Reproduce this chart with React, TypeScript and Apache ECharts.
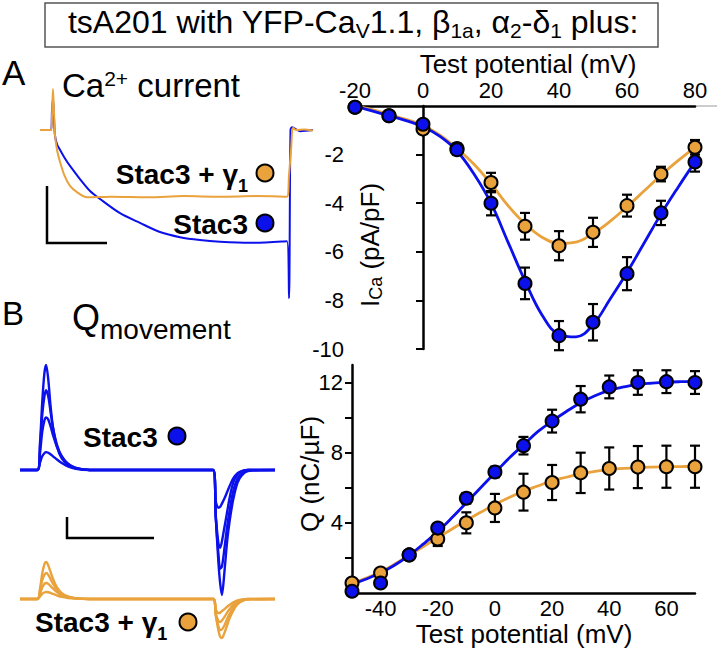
import React, { useEffect, useRef } from "react";
import * as echarts from "echarts";

const FONT = "'Liberation Sans', Arial, Helvetica, sans-serif";
const BLUE = "#0c10ea";
const ORANGE = "#e9a23c";
const BLACK = "#000000";

// ---------- I–V relationship (panel A, right) ----------
const ivPotential = [-20, -10, 0, 10, 20, 30, 40, 50, 60, 70, 80];
const ivStac3 = [-0.05, -0.4, -0.75, -1.8, -4.0, -7.3, -9.45, -8.9, -6.9, -4.4, -2.3];
const ivStac3Sem = [0.05, 0.1, 0.15, 0.2, 0.5, 0.65, 0.6, 0.75, 0.68, 0.5, 0.4];
const ivGamma = [-0.05, -0.4, -0.95, -1.75, -3.15, -4.95, -5.75, -5.2, -4.1, -2.8, -1.7];
const ivGammaSem = [0.05, 0.1, 0.2, 0.2, 0.4, 0.55, 0.6, 0.6, 0.45, 0.3, 0.3];
const ivFitPotential = [-20, -15, -10, -5, 0, 5, 10, 15, 20, 25, 30, 35, 40, 45, 50, 55, 60, 65, 70, 75, 80];
const ivFitStac3 = [0, -0.2, -0.4, -0.6, -0.85, -1.25, -1.85, -2.8, -4.0, -5.6, -7.2, -8.6, -9.4, -9.5, -9.0, -7.95, -6.85, -5.65, -4.45, -3.35, -2.3];
const ivFitGamma = [0, -0.15, -0.35, -0.55, -0.8, -1.2, -1.75, -2.4, -3.2, -4.1, -4.85, -5.4, -5.65, -5.6, -5.25, -4.75, -4.15, -3.5, -2.85, -2.25, -1.7];

// ---------- Q–V relationship (panel B, right) ----------
const qPotential = [-50, -40, -30, -20, -10, 0, 10, 20, 30, 40, 50, 60, 70];
const qStac3 = [0.1, 0.57, 2.17, 3.7, 5.4, 6.9, 8.4, 9.8, 11.05, 11.75, 12.0, 12.05, 12.0];
const qStac3Sem = [0.1, 0.15, 0.2, 0.25, 0.3, 0.3, 0.5, 0.65, 0.75, 0.65, 0.7, 0.65, 0.65];
const qGamma = [0.57, 1.14, 2.17, 3.08, 4.0, 4.85, 5.75, 6.3, 6.85, 7.1, 7.18, 7.2, 7.2];
const qGammaSem = [0.1, 0.15, 0.2, 0.4, 0.6, 0.8, 1.05, 1.0, 1.15, 1.2, 1.2, 1.2, 1.2];
const qFitPotential = [-50, -45, -40, -35, -30, -25, -20, -15, -10, -5, 0, 5, 10, 15, 20, 25, 30, 35, 40, 45, 50, 55, 60, 65, 70];
const qFitStac3 = [0.5, 0.8, 1.15, 1.6, 2.15, 2.8, 3.5, 4.3, 5.15, 6.0, 6.85, 7.7, 8.45, 9.2, 9.8, 10.35, 10.85, 11.25, 11.55, 11.75, 11.9, 11.97, 12.02, 12.05, 12.07];
const qFitGamma = [0.55, 0.85, 1.2, 1.65, 2.15, 2.65, 3.15, 3.65, 4.15, 4.6, 5.05, 5.45, 5.8, 6.1, 6.4, 6.6, 6.8, 6.93, 7.03, 7.1, 7.15, 7.18, 7.2, 7.21, 7.22];

// ---------- Ca2+ current traces (panel A, left): [time ms, current nA] ----------
const caTraceStac3: [number, number][] = [
  [0, 0], [9.2, 0], [10, 0.35], [10.8, 0.55], [11.7, 0.2], [12.5, -0.1], [14.2, -0.25], [16.7, -0.35],
  [20.8, -0.5], [25, -0.63], [33.3, -0.86], [41.7, -1.07], [50, -1.21], [66.7, -1.46], [83.3, -1.63],
  [100, -1.79], [116.7, -1.88], [133.3, -1.93], [150, -1.96], [175, -1.98], [205.8, -1.95],
  [207.5, -2.95], [208.75, 0.0], [210, 0.05], [216.7, -0.02], [227.5, 0],
];
const caTraceGamma: [number, number][] = [
  [0, 0], [9.2, 0], [10, 0.25], [10.8, 0.72], [11.7, 0.3], [12.5, -0.09], [14.2, -0.35], [16.7, -0.56],
  [20.8, -0.82], [25, -0.98], [30.8, -1.09], [39.2, -1.18], [60, -1.17], [90, -1.18], [120, -1.16],
  [150, -1.17], [180, -1.16], [205.8, -1.17], [207.5, -0.79], [209.2, -0.35], [210.8, 0.04],
  [213.3, 0.0], [220, 0.01], [227.5, -0.01],
];

// ---------- Charge movement traces (panel B, left) ----------
const qmTime = [0, 2.0, 2.3, 2.55, 2.8, 3.0, 3.25, 3.5, 3.8, 4.25, 4.8, 5.5, 6.4, 8.0, 22.2, 22.5, 22.8, 23.0, 23.2, 23.5, 23.8, 24.1, 24.5, 25.0, 25.5, 26.2, 29.3];
const qmStac3Traces = [
  [0, 0, 1.3, 3.2, 4.6, 5.0, 4.3, 3.1, 2.0, 1.1, 0.55, 0.25, 0.08, 0, 0, -2.3, -4.4, -5.4, -5.95, -4.8, -3.4, -2.4, -1.4, -0.6, -0.25, -0.05, 0],
  [0, 0, 1.1, 2.6, 3.5, 3.8, 3.5, 2.8, 2.0, 1.2, 0.65, 0.3, 0.1, 0, 0, -2.3, -4.0, -4.7, -4.6, -3.7, -2.7, -1.9, -1.0, -0.4, -0.15, 0, 0],
  [0, 0, 0.8, 1.8, 2.35, 2.5, 2.4, 2.1, 1.65, 1.1, 0.65, 0.3, 0.1, 0, 0, -2.2, -3.5, -3.7, -3.4, -2.7, -2.0, -1.3, -0.6, -0.2, -0.05, 0, 0],
  [0, 0, 0.35, 0.65, 0.8, 0.85, 0.82, 0.75, 0.65, 0.5, 0.33, 0.17, 0.06, 0, 0, -1.5, -1.8, -1.75, -1.6, -1.35, -1.05, -0.75, -0.4, -0.15, -0.05, 0, 0],
];
const qmGammaTraces = [
  [0, 0, 0.5, 1.2, 1.65, 1.76, 1.6, 1.3, 0.95, 0.55, 0.28, 0.12, 0.04, 0, 0, -0.8, -1.5, -1.8, -1.86, -1.6, -1.25, -0.9, -0.55, -0.25, -0.1, -0.02, 0],
  [0, 0, 0.4, 0.9, 1.15, 1.24, 1.15, 0.95, 0.72, 0.45, 0.24, 0.1, 0.03, 0, 0, -0.75, -1.3, -1.48, -1.45, -1.25, -0.95, -0.7, -0.42, -0.2, -0.08, -0.02, 0],
  [0, 0, 0.25, 0.55, 0.72, 0.76, 0.72, 0.62, 0.5, 0.33, 0.18, 0.08, 0.03, 0, 0, -0.7, -1.05, -1.1, -1.02, -0.85, -0.65, -0.48, -0.28, -0.12, -0.04, 0, 0],
  [0, 0, 0.12, 0.25, 0.31, 0.33, 0.32, 0.29, 0.24, 0.17, 0.1, 0.05, 0.02, 0, 0, -0.5, -0.67, -0.65, -0.58, -0.48, -0.37, -0.27, -0.16, -0.07, -0.02, 0, 0],
];

const zip = (xs: number[], ys: number[]) => xs.map((x, i) => [x, ys[i]]);
const errData = (xs: number[], m: number[], e: number[]) => xs.map((x, i) => [x, m[i] - e[i], m[i] + e[i]]);

const errorBarRender = (params: any, api: any) => {
  const x = api.value(0);
  const lo = api.coord([x, api.value(1)]);
  const hi = api.coord([x, api.value(2)]);
  const w = 5;
  const st = { stroke: BLACK, lineWidth: 2.2 };
  return {
    type: "group",
    children: [
      { type: "line", shape: { x1: lo[0], y1: lo[1], x2: hi[0], y2: hi[1] }, style: st },
      { type: "line", shape: { x1: lo[0] - w, y1: lo[1], x2: lo[0] + w, y2: lo[1] }, style: st },
      { type: "line", shape: { x1: hi[0] - w, y1: hi[1], x2: hi[0] + w, y2: hi[1] }, style: st },
    ],
  };
};

const axisLine = { lineStyle: { color: BLACK, width: 2.5 } };
const tickLabel = { fontSize: 22, color: BLACK, fontFamily: FONT, lineHeight: 22 };

function buildOption(): any {
  const series: any[] = [];
  const scatter = (xi: number, data: number[][], color: string, z: number) => ({
    type: "scatter", xAxisIndex: xi, yAxisIndex: xi, data, symbol: "circle", symbolSize: 13,
    itemStyle: { color, borderColor: BLACK, borderWidth: 2, opacity: 1 }, z, silent: true,
  });
  const fit = (xi: number, data: number[][], color: string) => ({
    type: "line", xAxisIndex: xi, yAxisIndex: xi, data, smooth: 0.4, showSymbol: false,
    lineStyle: { color, width: 2.8 }, z: 2, silent: true,
  });
  const err = (xi: number, data: number[][]) => ({
    type: "custom", xAxisIndex: xi, yAxisIndex: xi, data, renderItem: errorBarRender, z: 3, silent: true,
    encode: { x: 0, y: [1, 2] },
  });

  // I-V
  series.push(fit(0, zip(ivFitPotential, ivFitGamma), ORANGE));
  series.push(fit(0, zip(ivFitPotential, ivFitStac3), BLUE));
  series.push(err(0, errData(ivPotential, ivGamma, ivGammaSem)));
  series.push(err(0, errData(ivPotential, ivStac3, ivStac3Sem)));
  series.push(scatter(0, zip(ivPotential, ivGamma), ORANGE, 4));
  series.push(scatter(0, zip(ivPotential, ivStac3), BLUE, 5));
  // Q-V
  series.push(fit(1, zip(qFitPotential, qFitGamma), ORANGE));
  series.push(fit(1, zip(qFitPotential, qFitStac3), BLUE));
  series.push(err(1, errData(qPotential, qGamma, qGammaSem)));
  series.push(err(1, errData(qPotential, qStac3, qStac3Sem)));
  series.push(scatter(1, zip(qPotential, qGamma), ORANGE, 4));
  series.push(scatter(1, zip(qPotential, qStac3), BLUE, 5));
  // Ca current traces
  series.push({ type: "line", xAxisIndex: 2, yAxisIndex: 2, data: caTraceStac3, smooth: 0.3, showSymbol: false, lineStyle: { color: BLUE, width: 2 }, z: 2, silent: true });
  series.push({ type: "line", xAxisIndex: 2, yAxisIndex: 2, data: caTraceGamma, smooth: 0.3, showSymbol: false, lineStyle: { color: ORANGE, width: 2 }, z: 3, silent: true });
  // Charge movement traces
  qmStac3Traces.forEach((tr) => series.push({ type: "line", xAxisIndex: 3, yAxisIndex: 3, data: zip(qmTime, tr), smooth: 0.3, showSymbol: false, lineStyle: { color: BLUE, width: 2.4 }, z: 2, silent: true }));
  qmGammaTraces.forEach((tr) => series.push({ type: "line", xAxisIndex: 4, yAxisIndex: 4, data: zip(qmTime, tr), smooth: 0.3, showSymbol: false, lineStyle: { color: ORANGE, width: 2.4 }, z: 2, silent: true }));

  const grid = (left: number, top: number, width: number, height: number) => ({
    left, top, width, height, containLabel: false, outerBoundsMode: "none",
  });

  const txt = (text: string, x: number, y: number, fontSize: number, extra: any = {}) => ({
    type: "text", x, y, silent: true,
    style: { text, fontSize, fontFamily: FONT, fill: BLACK, align: "left", verticalAlign: "middle", ...extra },
  });
  const dot = (cx: number, cy: number, color: string) => ({
    type: "circle", shape: { cx, cy, r: 8.5 }, style: { fill: color, stroke: BLACK, lineWidth: 2 }, silent: true,
  });
  const gammaRich = {
    b: { fontSize: 28, fontWeight: "bold", fontFamily: FONT, fill: BLACK, lineHeight: 42 },
    s: { fontSize: 18, fontWeight: "bold", fontFamily: FONT, fill: BLACK, lineHeight: 10, verticalAlign: "bottom" },
  };

  const graphic: any[] = [
    { type: "rect", shape: { x: 45, y: 3, width: 613, height: 44 }, style: { fill: "#fff", stroke: "#555", lineWidth: 1.5 }, silent: true },
    txt("{m|tsA201 with YFP-Ca}{s|V}{m|1.1, β}{s|1a}{m|, α}{s|2}{m|-δ}{s|1}{m| plus:}", 353, 22, 32, {
      align: "center",
      rich: {
        m: { fontSize: 32, lineHeight: 38, fontFamily: FONT, fill: BLACK },
        s: { fontSize: 21, lineHeight: 24, fontFamily: FONT, fill: BLACK, verticalAlign: "bottom" },
      },
    }),
    txt("A", 2, 72, 35),
    txt("B", 2, 313, 33),
    txt("{m|Ca}{p|2+}{m| current}", 62, 85, 33, {
      rich: {
        m: { fontSize: 33, lineHeight: 34, fontFamily: FONT, fill: BLACK },
        p: { fontSize: 21, lineHeight: 20, fontFamily: FONT, fill: BLACK, verticalAlign: "top" },
      },
    }),
    txt("{q|Q}{s|movement}", 72, 317, 36, {
      rich: {
        q: { fontSize: 36, lineHeight: 52, fontFamily: FONT, fill: BLACK },
        s: { fontSize: 28, lineHeight: 20, fontFamily: FONT, fill: BLACK, verticalAlign: "bottom" },
      },
    }),
    // Panel A labels
    txt("{b|Stac3 + γ}{s|1}", 248, 174, 28, { align: "right", rich: gammaRich }),
    dot(265, 173, ORANGE),
    txt("Stac3", 248, 224, 28, { align: "right", fontWeight: "bold" }),
    dot(265, 223, BLUE),
    // Panel B labels
    txt("Stac3", 83, 437, 28, { fontWeight: "bold" }),
    dot(177, 436, BLUE),
    txt("{b|Stac3 + γ}{s|1}", 35, 622, 28, { rich: gammaRich }),
    dot(188, 622, ORANGE),
    // scale bars
    { type: "polyline", shape: { points: [[47, 186], [47, 243], [107, 243]] }, style: { stroke: BLACK, lineWidth: 2.5, fill: "none" }, silent: true },
    { type: "polyline", shape: { points: [[67, 517], [67, 538], [154, 538]] }, style: { stroke: BLACK, lineWidth: 2.5, fill: "none" }, silent: true },
    // thin continuation of the top axis
    { type: "line", shape: { x1: 696, y1: 106, x2: 717, y2: 106 }, style: { stroke: "#999", lineWidth: 1 }, silent: true },
    // axis names
    txt("Test potential (mV)", 528, 64, 26, { align: "center" }),
    txt("Test potential (mV)", 524, 634, 26, { align: "center" }),
    {
      type: "text", x: 370, y: 245, rotation: Math.PI / 2, silent: true,
      style: {
        text: "{m|I}{s|Ca}{m| (pA/pF)}", align: "center", verticalAlign: "middle", fill: BLACK,
        rich: {
          m: { fontSize: 26, lineHeight: 30, fontFamily: FONT, fill: BLACK },
          s: { fontSize: 18, lineHeight: 16, fontFamily: FONT, fill: BLACK, verticalAlign: "bottom" },
        },
      },
    },
    {
      type: "text", x: 310, y: 474, rotation: Math.PI / 2, silent: true,
      style: { text: "Q (nC/µF)", align: "center", verticalAlign: "middle", fontSize: 26, fontFamily: FONT, fill: BLACK },
    },
  ];

  return {
    animation: false,
    backgroundColor: "#ffffff",
    textStyle: { fontFamily: FONT },
    grid: [
      grid(355, 106, 340, 243),
      grid(352, 365, 343, 228),
      grid(40, 84.4, 273.6, 216.6),
      grid(20, 354.5, 255, 252),
      grid(20, 557, 255, 84),
    ],
    xAxis: [
      {
        gridIndex: 0, type: "value", min: -20, max: 80, interval: 20, position: "top",
        axisLine: { onZero: true, ...axisLine }, axisTick: { show: false }, splitLine: { show: false },
        axisLabel: { ...tickLabel, margin: 5, customValues: [-20, 0, 20, 40, 60, 80] },
      },
      {
        gridIndex: 1, type: "value", min: -50, max: 70, interval: 10, position: "bottom",
        axisLine: { onZero: false, ...axisLine }, axisTick: { show: false }, splitLine: { show: false },
        axisLabel: {
          ...tickLabel, margin: 4, customValues: [-40, -20, 0, 20, 40, 60],
          formatter: (v: number) => (Math.abs(v % 20) === 0 ? String(v) : ""),
        },
      },
      { gridIndex: 2, type: "value", min: 0, max: 228, show: false },
      { gridIndex: 3, type: "value", min: 0, max: 29.3, show: false },
      { gridIndex: 4, type: "value", min: 0, max: 29.3, show: false },
    ],
    yAxis: [
      {
        gridIndex: 0, type: "value", min: -10, max: 0, interval: 2,
        axisLine: { onZero: true, ...axisLine },
        axisTick: { show: true, length: 7, lineStyle: { color: BLACK, width: 2 }, customValues: [-10, -8, -6, -4, -2] },
        splitLine: { show: false },
        axisLabel: { ...tickLabel, margin: 11, customValues: [-10, -8, -6, -4, -2], formatter: (v: number) => (v === 0 ? "" : String(v)) },
      },
      {
        gridIndex: 1, type: "value", min: 0, max: 13, interval: 2,
        axisLine: { onZero: false, ...axisLine },
        axisTick: { show: true, length: 7, lineStyle: { color: BLACK, width: 2 }, customValues: [0, 2, 4, 6, 8, 10, 12] },
        splitLine: { show: false },
        axisLabel: { ...tickLabel, margin: 9, customValues: [4, 8, 12], formatter: (v: number) => (v % 4 === 0 && v !== 0 ? String(v) : "") },
      },
      { gridIndex: 2, type: "value", min: -3.0, max: 0.8, show: false },
      { gridIndex: 3, type: "value", min: -6.5, max: 5.5, show: false },
      { gridIndex: 4, type: "value", min: -2, max: 2, show: false },
    ],
    series,
    graphic: { elements: graphic },
  };
}

export default function App() {
  const ref = useRef<HTMLDivElement>(null);
  useEffect(() => {
    document.body.style.margin = "0";
    const chart = echarts.init(ref.current as HTMLDivElement, null, { renderer: "svg" });
    chart.setOption(buildOption());
    return () => chart.dispose();
  }, []);
  return <div ref={ref} style={{ width: 717, height: 652, background: "#ffffff" }} />;
}
